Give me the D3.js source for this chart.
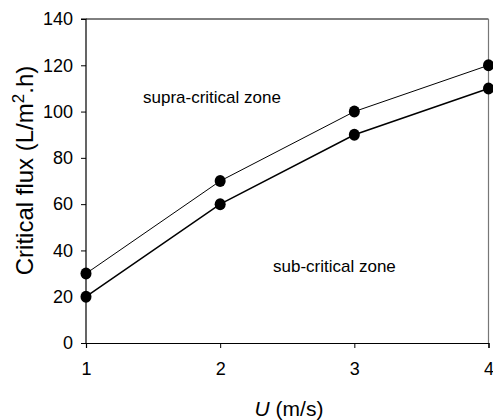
<!DOCTYPE html>
<html><head><meta charset="utf-8">
<script src="https://cdn.jsdelivr.net/npm/d3@7"></script>
<style>body{margin:0;background:#fff}svg{display:block}text{font-family:"Liberation Sans",Arial,sans-serif}</style>
</head><body>
<script>
const velocities = [1, 2, 3, 4];
const upperFlux = [30, 70, 100, 120];
const lowerFlux = [20, 60, 90, 110];
const xTicks = [1, 2, 3, 4];
const yTicks = [0, 20, 40, 60, 80, 100, 120, 140];

const W = 493, H = 420;
const m = {l: 86, r: 4.5, t: 19, b: 77};
const svg = d3.select("body").append("svg").attr("width", W).attr("height", H);
const x = d3.scaleLinear().domain([1, 4]).range([m.l, W - m.r]);
const y = d3.scaleLinear().domain([0, 140]).range([H - m.b, m.t]);

// frame top/right
svg.append("line").attr("x1", x(1)).attr("x2", x(4)).attr("y1", y(140)).attr("y2", y(140)).attr("stroke", "#000").attr("stroke-width", 1);
svg.append("line").attr("x1", x(4)).attr("x2", x(4)).attr("y1", y(140)).attr("y2", y(0)).attr("stroke", "#777").attr("stroke-width", 1.2);

const xAxis = svg.append("g").attr("transform", `translate(0,${y(0)})`)
  .call(d3.axisBottom(x).tickValues(xTicks).tickFormat(d3.format("d")).tickSize(5).tickPadding(14));
const yAxis = svg.append("g").attr("transform", `translate(${x(1)},0)`)
  .call(d3.axisLeft(y).tickValues(yTicks).tickSize(5).tickPadding(8));
[xAxis, yAxis].forEach(g => {
  g.select(".domain").attr("stroke", "#000").attr("stroke-width", 1.2);
  g.selectAll(".tick line").attr("stroke", "#000");
  g.selectAll("text").attr("font-size", 18).attr("fill", "#000").attr("font-family", '"Liberation Sans",Arial,sans-serif');
});
yAxis.select(".domain").attr("d", `M-5,${y(140)}H0V${y(0)}`);

const line = d3.line().x((d, i) => x(velocities[i])).y(d => y(d));
svg.append("path").datum(upperFlux).attr("d", line).attr("fill", "none").attr("stroke", "#000").attr("stroke-width", 1);
svg.append("path").datum(lowerFlux).attr("d", line).attr("fill", "none").attr("stroke", "#000").attr("stroke-width", 1.5);
[upperFlux, lowerFlux].forEach(s => {
  svg.append("g").selectAll("ellipse").data(s).join("ellipse")
    .attr("cx", (d, i) => x(velocities[i])).attr("cy", d => y(d))
    .attr("rx", 5.5).attr("ry", 6).attr("fill", "#000");
});

svg.append("text").attr("x", 143).attr("y", 103).attr("font-size", 17).text("supra-critical zone");
svg.append("text").attr("x", 273).attr("y", 272).attr("font-size", 17).text("sub-critical zone");

const xt = svg.append("text").attr("x", 289).attr("y", 416).attr("text-anchor", "middle").attr("font-size", 21);
xt.append("tspan").attr("font-style", "italic").text("U");
xt.append("tspan").text(" (m/s)");

const yt = svg.append("text").attr("transform", `translate(33,170.5) rotate(-90)`).attr("text-anchor", "middle").attr("font-size", 24);
yt.append("tspan").text("Critical flux (L/m");
yt.append("tspan").attr("font-size", 17).attr("dy", -9).text("2");
yt.append("tspan").attr("dy", 9).text(".h)");
</script>
</body></html>
